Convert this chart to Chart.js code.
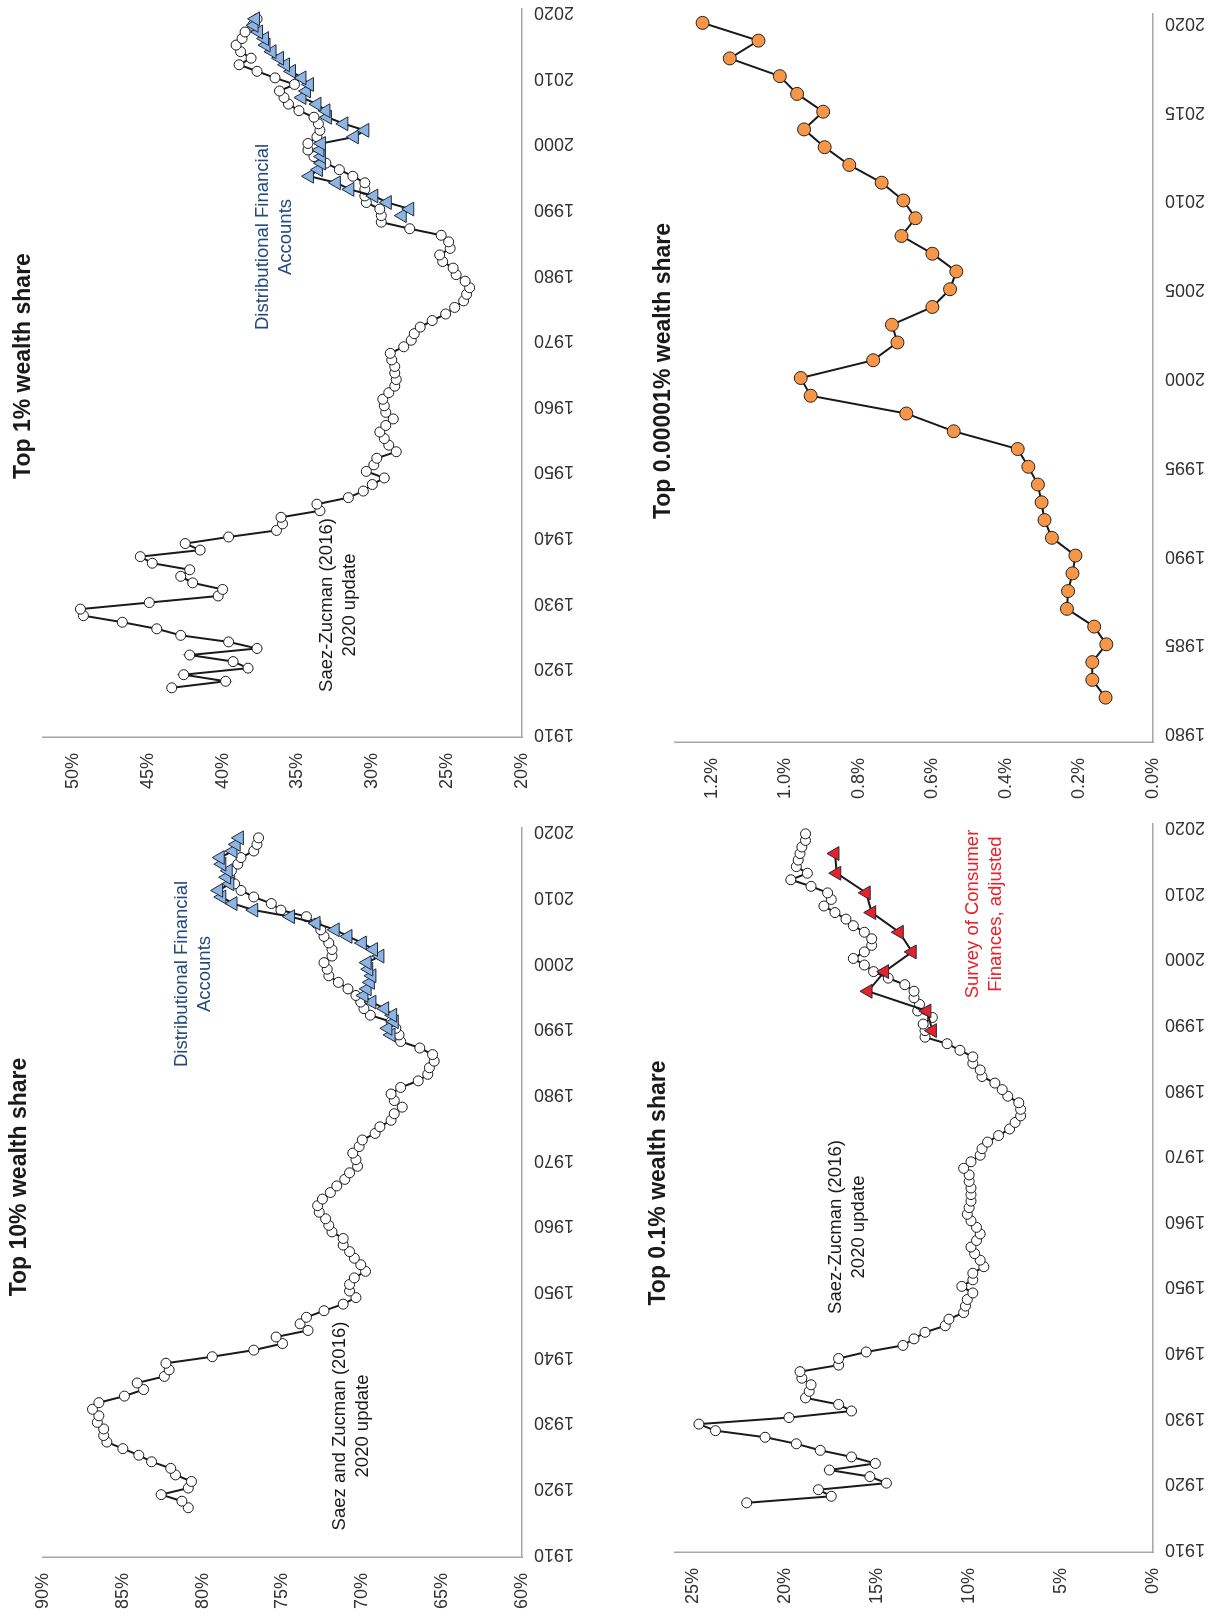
<!DOCTYPE html>
<html>
<head>
<meta charset="utf-8">
<script src="https://cdn.jsdelivr.net/npm/chart.js@4.4.1/dist/chart.umd.min.js"></script>
<style>
  html, body { margin: 0; padding: 0; background: #fff; width: 1217px; height: 1621px; overflow: hidden; }
  /* the figure is laid out landscape, then turned a quarter turn to the left */
  #stage { position: absolute; left: 0; top: 0; width: 1621px; height: 1217px; transform-origin: 0 0; transform: translateY(1621px) rotate(-90deg); }
  #stage canvas { position: absolute; }
</style>
</head>
<body>
<div id="stage">
  <canvas id="c10"></canvas>
  <canvas id="c1"></canvas>
  <canvas id="c01"></canvas>
  <canvas id="c00001"></canvas>
</div>
<script>
const szYears = [1917,1918,1919,1920,1921,1922,1923,1924,1925,1926,1927,1928,1929,1930,1931,1932,1933,1934,1935,1936,1937,1938,1939,1940,1941,1942,1943,1944,1945,1946,1947,1948,1949,1950,1951,1952,1953,1954,1955,1956,1957,1958,1959,1960,1961,1962,1963,1964,1965,1966,1967,1968,1969,1970,1971,1972,1973,1974,1975,1976,1977,1978,1979,1980,1981,1982,1983,1984,1985,1986,1987,1988,1989,1990,1991,1992,1993,1994,1995,1996,1997,1998,1999,2000,2001,2002,2003,2004,2005,2006,2007,2008,2009,2010,2011,2012,2013,2014,2015,2016,2017,2018,2019];
const dfaYears = [1989,1990,1991,1992,1993,1994,1995,1996,1997,1998,1999,2000,2001,2002,2003,2004,2005,2006,2007,2008,2009,2010,2011,2012,2013,2014,2015,2016,2017,2018,2019];
const scfYears = [1989,1992,1995,1998,2001,2004,2007,2010,2013,2016];
const forbesYears = [1982,1983,1984,1985,1986,1987,1988,1989,1990,1991,1992,1993,1994,1995,1996,1997,1998,1999,2000,2001,2002,2003,2004,2005,2006,2007,2008,2009,2010,2011,2012,2013,2014,2015,2016,2017,2018,2019,2020];

const top10SZ = [80.9,81.3,82.6,80.9,80.7,81.7,82.0,83.2,84.0,85.0,
  86.0,86.2,86.2,86.6,86.5,86.9,86.5,84.9,83.7,84.1,
  82.4,82.1,82.3,79.4,76.8,75.0,75.4,73.4,73.9,73.5,
  72.4,71.2,70.4,70.8,70.8,70.5,69.8,70.1,70.5,70.8,
  71.2,71.2,71.9,72.1,72.3,72.7,72.8,72.5,72.0,71.6,
  71.1,70.8,70.3,70.4,70.6,70.2,70.0,69.2,68.9,68.2,
  68.0,67.5,68.0,68.2,67.6,66.5,65.9,65.8,65.5,65.6,
  66.4,67.6,67.7,67.9,68.2,69.5,69.9,70.1,70.4,70.9,
  71.5,72.1,72.2,72.4,71.9,71.9,72.1,72.4,72.6,72.9,
  73.5,75.1,75.7,76.8,77.6,78.0,78.3,78.2,77.8,77.6,
  76.8,76.6,76.5];
const top10DFA = [68.2,68.4,68.0,68.1,68.6,69.4,69.9,69.7,69.5,69.4,69.6,69.7,68.9,69.3,70.0,70.9,71.7,72.9,74.5,76.8,78.1,78.8,79.0,78.3,78.5,78.4,78.8,78.9,78.1,77.9,77.7];

const top1SZ = [43.4,39.8,42.6,38.3,39.3,42.2,37.7,39.6,42.8,44.4,
  46.7,49.3,49.5,44.9,40.3,40.0,42.0,42.8,42.2,44.7,
  45.5,41.5,42.5,39.6,36.4,36.0,36.1,33.5,33.7,31.6,
  30.6,30.0,29.2,30.4,29.9,29.7,28.4,28.9,29.2,29.5,
  29.1,28.6,29.1,29.2,29.3,28.9,28.5,28.4,28.5,28.5,
  28.7,28.8,27.9,27.4,27.2,26.8,26.0,25.1,24.5,23.9,
  23.7,23.5,23.8,24.4,24.6,25.3,25.5,24.8,24.9,25.4,
  27.5,29.4,29.4,29.5,30.4,30.5,30.5,30.5,31.3,32.2,
  33.1,33.9,34.3,34.3,33.7,33.5,33.6,33.9,34.9,35.6,
  35.9,36.2,35.2,36.5,37.7,38.9,38.1,38.8,39.1,38.7,
  38.5,38.0,37.7];
const top1DFA = [28.0,27.5,29.0,29.9,31.5,32.4,34.2,33.6,33.4,33.4,33.5,33.4,31.2,30.5,31.9,33.0,33.1,33.7,34.7,34.4,34.2,34.7,35.4,35.8,36.2,36.7,37.1,37.2,37.6,37.9,37.8];

const top01SZ = [22.1,17.5,18.2,14.5,15.4,17.6,15.1,16.4,18.1,19.4,
  21.1,23.8,24.7,19.8,16.4,17.1,18.9,18.7,18.6,19.1,
  19.2,17.1,17.1,15.6,13.6,13.0,12.4,11.3,11.1,10.3,
  10.2,10.1,9.8,10.4,9.8,9.8,9.2,9.4,9.7,9.9,
  9.6,9.4,9.6,9.9,10.1,10.0,9.9,9.9,9.9,10.0,
  10.0,10.3,9.9,9.4,9.3,9.0,8.4,7.8,7.5,7.2,
  7.2,7.3,7.9,8.2,8.6,9.3,9.4,9.8,9.8,10.5,
  11.2,12.4,12.4,12.5,12.0,12.8,12.7,13.0,13.0,13.5,
  14.4,15.2,15.7,16.3,15.7,15.3,15.3,15.7,16.3,16.7,
  17.3,17.9,17.5,17.7,18.6,19.7,18.8,19.4,19.3,19.2,
  19.1,18.9,18.9];
const top01SCF = [12.0,12.3,15.5,14.6,13.1,13.8,15.3,15.6,17.2,17.3];

const top00001 = [0.129,0.165,0.165,0.127,0.160,0.234,0.231,0.219,0.211,0.275,
  0.295,0.303,0.313,0.339,0.368,0.542,0.671,0.931,0.958,0.761,
  0.695,0.710,0.600,0.552,0.535,0.600,0.684,0.646,0.679,0.738,
  0.826,0.893,0.949,0.897,0.968,1.015,1.151,1.073,1.225];

const yearTicksLong = [1910,1920,1930,1940,1950,1960,1970,1980,1990,2000,2010,2020];
const yearTicksShort = [1980,1985,1990,1995,2000,2005,2010,2015,2020];
const top10Ticks = [60,65,70,75,80,85,90];
const top1Ticks = [20,25,30,35,40,45,50];
const top01Ticks = [0,5,10,15,20,25];
const top00001Ticks = [0,0.2,0.4,0.6,0.8,1.0,1.2];

const FONT = '"Liberation Sans", Arial, Helvetica, sans-serif';
const YW = 60, TOPPAD = 40, XH = 70, RIGHTPAD = 8;
Chart.defaults.font.family = FONT;

const pts = (xs, ys) => xs.map((x, i) => ({ x: x, y: ys[i] }));

function szSet(xs, ys) {
  return { data: pts(xs, ys), borderColor: '#1a1a1a', borderWidth: 2, pointStyle: 'circle', pointRadius: 5, pointBorderWidth: 1, pointBackgroundColor: '#ffffff', pointBorderColor: '#1a1a1a', tension: 0 };
}
function triSet(xs, ys, fill) {
  return { data: pts(xs, ys), borderColor: '#1a1a1a', borderWidth: 2, pointStyle: 'triangle', pointRadius: 8, pointBorderWidth: 1, pointBackgroundColor: fill, pointBorderColor: '#1f2a3a', tension: 0 };
}

const panelText = {
  id: 'panelText',
  afterDraw(chart, args, o) {
    const { ctx, chartArea: a } = chart;
    ctx.save();
    ctx.textAlign = 'center';
    ctx.fillStyle = '#1a1a1a';
    ctx.font = 'bold 23px ' + FONT;
    ctx.textBaseline = 'alphabetic';
    ctx.fillText(o.title, a.left + o.titleX, a.top - o.titleGap);
    ctx.font = '18.5px ' + FONT;
    ctx.textBaseline = 'middle';
    (o.notes || []).forEach(n => {
      ctx.fillStyle = n.color;
      n.lines.forEach((line, i) => ctx.fillText(line, a.left + n.x, a.top + n.y + (i - (n.lines.length - 1) / 2) * 23));
    });
    ctx.restore();
  }
};

function makePanel(p) {
  const canvas = document.getElementById(p.id);
  canvas.width = YW + p.W + RIGHTPAD;
  canvas.height = TOPPAD + p.H + XH;
  canvas.style.left = (p.L - YW) + 'px';
  canvas.style.top = (p.T - TOPPAD) + 'px';
  new Chart(canvas.getContext('2d'), {
    type: 'line',
    data: { datasets: p.datasets },
    plugins: [panelText],
    options: {
      responsive: false, animation: false, devicePixelRatio: 1,
      layout: { padding: { left: 0, right: RIGHTPAD, top: TOPPAD, bottom: 0 } },
      plugins: { legend: { display: false }, tooltip: { enabled: false }, panelText: { title: p.title, titleX: p.titleX, titleGap: p.titleGap, notes: p.notes } },
      scales: {
        x: {
          type: 'linear', min: p.xMin, max: p.xMax, bounds: 'data',
          grid: { display: false, drawTicks: false },
          border: { display: true, color: '#a6a6a6', width: 1.5 },
          ticks: { autoSkip: false, minRotation: 90, maxRotation: 90, padding: 12, color: '#333', font: { size: 18 }, callback: v => String(v) },
          afterBuildTicks: s => { s.ticks = p.xTicks.map(v => ({ value: v })); },
          afterFit: s => { s.height = XH; s.paddingLeft = 0; s.paddingRight = 0; }
        },
        y: {
          type: 'linear', min: p.yMin, max: p.yMax, bounds: 'data',
          grid: { display: false, drawTicks: false },
          border: { display: true, color: '#a6a6a6', width: 1.5 },
          ticks: { padding: 16, color: '#333', font: { size: 18 }, callback: p.fmt },
          afterBuildTicks: s => { s.ticks = p.yTicks.map(v => ({ value: v })); },
          afterFit: s => { s.width = YW; s.paddingTop = 0; s.paddingBottom = 0; }
        }
      }
    }
  });
}

const pct0 = v => v + '%';
const DFA_BLUE = '#8eb4e3', NAVY = '#244a7c', SCF_RED = '#e8202a';

makePanel({
  id: 'c10', L: 64, T: 43, W: 730, H: 479,
  xMin: 1909.5, xMax: 2020.5, xTicks: yearTicksLong, yMin: 60, yMax: 90, yTicks: top10Ticks, fmt: pct0,
  title: 'Top 10% wealth share', titleX: 380, titleGap: 17,
  notes: [
    { lines: ['Saez and Zucman (2016)', '2020 update'], x: 131, y: 308, color: '#1a1a1a' },
    { lines: ['Distributional Financial', 'Accounts'], x: 583, y: 150, color: NAVY }
  ],
  datasets: [triSet(dfaYears, top10DFA, DFA_BLUE), szSet(szYears, top10SZ)]
});

makePanel({
  id: 'c1', L: 884, T: 43, W: 729, H: 479,
  xMin: 1909.5, xMax: 2020.5, xTicks: yearTicksLong, yMin: 20, yMax: 52, yTicks: top1Ticks, fmt: pct0,
  title: 'Top 1% wealth share', titleX: 371, titleGap: 13,
  notes: [
    { lines: ['Saez-Zucman (2016)', '2020 update'], x: 132, y: 295, color: '#1a1a1a' },
    { lines: ['Distributional Financial', 'Accounts'], x: 500, y: 231, color: NAVY }
  ],
  datasets: [triSet(dfaYears, top1DFA, DFA_BLUE), szSet(szYears, top1SZ)]
});

makePanel({
  id: 'c01', L: 69, T: 675, W: 729, H: 478,
  xMin: 1909.5, xMax: 2020.5, xTicks: yearTicksLong, yMin: 0, yMax: 26, yTicks: top01Ticks, fmt: pct0,
  title: 'Top 0.1% wealth share', titleX: 369, titleGap: 10,
  notes: [
    { lines: ['Saez-Zucman (2016)', '2020 update'], x: 325, y: 172, color: '#1a1a1a' },
    { lines: ['Survey of Consumer', 'Finances, adjusted'], x: 638, y: 309, color: SCF_RED }
  ],
  datasets: [triSet(scfYears, top01SCF, SCF_RED), szSet(szYears, top01SZ)]
});

makePanel({
  id: 'c00001', L: 879, T: 675, W: 728, H: 478,
  xMin: 1979.5, xMax: 2020.5, xTicks: yearTicksShort, yMin: 0, yMax: 1.3, yTicks: top00001Ticks, fmt: v => v.toFixed(1) + '%',
  title: 'Top 0.00001% wealth share', titleX: 371, titleGap: 5,
  notes: [],
  datasets: [{ data: pts(forbesYears, top00001), borderColor: '#1a1a1a', borderWidth: 2, pointStyle: 'circle', pointRadius: 6.5, pointBorderWidth: 1, pointBackgroundColor: '#f79646', pointBorderColor: '#222', tension: 0 }]
});
</script>
</body>
</html>
